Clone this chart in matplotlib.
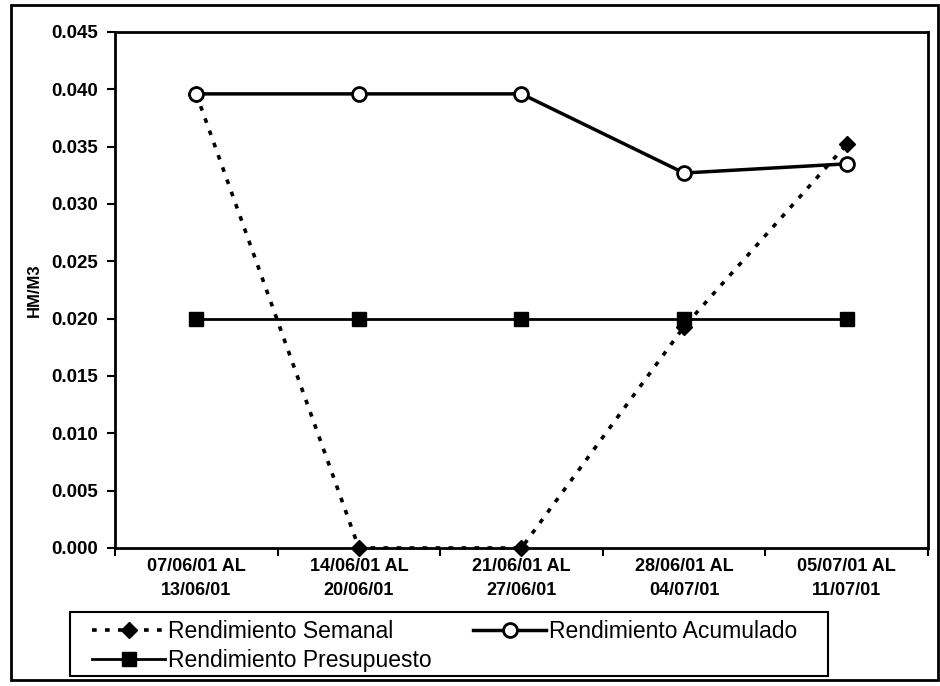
import matplotlib.pyplot as plt
from matplotlib.patches import Rectangle
from matplotlib.ticker import FixedLocator, NullFormatter

plt.rcParams['font.family'] = ['Liberation Sans', 'DejaVu Sans']

# ---- data ----
semanas = ["07/06/01 AL\n13/06/01", "14/06/01 AL\n20/06/01", "21/06/01 AL\n27/06/01",
           "28/06/01 AL\n04/07/01", "05/07/01 AL\n11/07/01"]
rend_semanal = [0.0396, 0.0, 0.0, 0.0193, 0.0352]
rend_acumulado = [0.0396, 0.0396, 0.0396, 0.0327, 0.0335]
rend_presupuesto = [0.020, 0.020, 0.020, 0.020, 0.020]
y_ticks = [0.000, 0.005, 0.010, 0.015, 0.020, 0.025, 0.030, 0.035, 0.040, 0.045]

# ---- figure ----
fig = plt.figure(figsize=(9.4, 6.86), dpi=100)
ax = fig.add_axes([0.1223, 0.2012, 0.8649, 0.7522])

x = list(range(len(semanas)))

l_sem, = ax.plot(x, rend_semanal, color="black", lw=2.6, linestyle=(0, (1.3, 2.3)),
                 marker="D", ms=8, mfc="black", mec="black", zorder=2, clip_on=False,
                 label="Rendimiento Semanal")
l_acu, = ax.plot(x, rend_acumulado, color="black", lw=2.5,
                 marker="o", ms=10, mfc="white", mec="black", mew=2, zorder=3,
                 label="Rendimiento Acumulado")
l_pre, = ax.plot(x, rend_presupuesto, color="black", lw=2.0,
                 marker="s", ms=10, mfc="black", mec="black", zorder=4,
                 label="Rendimiento Presupuesto")

ax.set_xlim(-0.5, len(semanas) - 0.5)
ax.set_ylim(0, 0.045)
ax.set_yticks(y_ticks)
ax.set_yticklabels([f"{v:.3f}" for v in y_ticks])

# category labels centred, tick marks between categories
ax.set_xticks(x)
ax.set_xticklabels(semanas, linespacing=1.6)
ax.xaxis.set_minor_locator(FixedLocator([i - 0.5 for i in range(len(semanas) + 1)]))
ax.xaxis.set_minor_formatter(NullFormatter())
ax.tick_params(axis="x", which="major", length=0, pad=7)
ax.tick_params(axis="x", which="minor", length=6, width=1.5, direction="out")
ax.tick_params(axis="y", length=6, width=1.5, direction="out", pad=6)
for lab in ax.get_xticklabels():
    lab.set_fontsize(13)
    lab.set_fontweight("bold")
for lab in ax.get_yticklabels():
    lab.set_fontsize(13.5)
    lab.set_fontweight("bold")

for s in ax.spines.values():
    s.set_linewidth(2)

ax.set_ylabel("HM/M3", fontsize=12, fontweight="bold")
ax.yaxis.set_label_coords(-0.09, 0.5)

# legend under the plot, frame drawn separately
leg = fig.legend(handles=[l_sem, l_pre, l_acu], ncol=2, loc="upper left",
                 bbox_to_anchor=(0.098, 0.0962), borderaxespad=0, borderpad=0,
                 fontsize=16.5, frameon=False, handlelength=3.2,
                 handletextpad=0.13, labelspacing=0.28, columnspacing=1.79)
fig.patches.append(Rectangle((0.0745, 0.01458), 0.8064, 0.0933, transform=fig.transFigure,
                             fill=False, edgecolor="black", linewidth=1.5))

# outer chart frame
fig.patches.append(Rectangle((0.0117, 0.0087), 0.986, 0.984, transform=fig.transFigure,
                             fill=False, edgecolor="black", linewidth=2))

fig.savefig("out.png", dpi=100)
